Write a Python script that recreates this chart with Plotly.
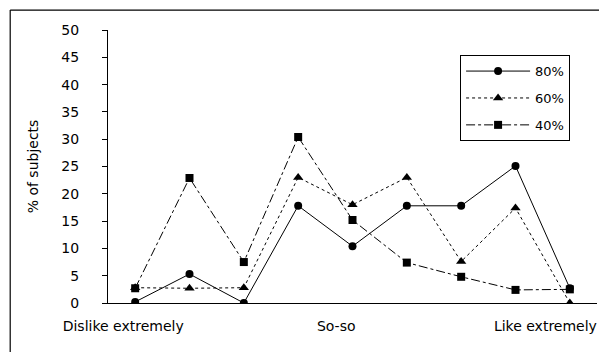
import plotly.graph_objects as go

points = [1, 2, 3, 4, 5, 6, 7, 8, 9]
s80 = [0.2, 5.3, 0, 17.8, 10.4, 17.8, 17.8, 25.1, 2.7]
s60 = [2.8, 2.7, 2.8, 23.0, 18.0, 23.0, 7.6, 17.4, 0]
s40 = [2.7, 22.9, 7.5, 30.4, 15.2, 7.4, 4.8, 2.4, 2.5]
series_names = ["80%", "60%", "40%"]
cat_pos = [0.78, 4.70, 8.55]
cat_labels = ["Dislike extremely", "So-so", "Like extremely"]
y_ticks = [0, 5, 10, 15, 20, 25, 30, 35, 40, 45, 50]

font_family = "DejaVu Sans, sans-serif"

fig = go.Figure()
fig.add_trace(go.Scatter(x=points, y=s40, name=series_names[2], mode="lines+markers",
                         legendgroup="c", legendrank=3,
                         line=dict(color="black", width=1, dash="dashdot"),
                         marker=dict(symbol="square", size=8, color="black")))
fig.add_trace(go.Scatter(x=points, y=s60, name=series_names[1], mode="lines+markers",
                         legendgroup="b", legendrank=2,
                         line=dict(color="black", width=1, dash="dot"),
                         marker=dict(symbol="triangle-up", size=9, color="black")))
fig.add_trace(go.Scatter(x=points, y=s80, name=series_names[0], mode="lines+markers",
                         legendgroup="a", legendrank=1,
                         line=dict(color="black", width=1),
                         marker=dict(symbol="circle", size=8, color="black")))

fig.update_layout(
    width=599, height=344,
    margin=dict(l=100, r=10, t=22, b=49, autoexpand=False),
    paper_bgcolor="white", plot_bgcolor="white",
    font=dict(family=font_family, size=13, color="black"),
    showlegend=True,
    legend=dict(x=0.72, y=0.908, xanchor="left", yanchor="top",
                bordercolor="black", borderwidth=1, bgcolor="white",
                font=dict(size=13), itemwidth=64, tracegroupgap=7,
                valign="middle"),
    xaxis=dict(range=[0.5, 9.5], showgrid=False, zeroline=False, automargin=False,
               showline=True, linecolor="black", linewidth=1,
               tickmode="array", tickvals=cat_pos, ticktext=cat_labels,
               ticks="", ticklabelstandoff=10, tickfont=dict(size=14)),
    yaxis=dict(range=[0, 50], showgrid=False, zeroline=False, automargin=False,
               showline=True, linecolor="black", linewidth=1,
               tickmode="array", tickvals=y_ticks,
               ticks="outside", ticklen=5, tickcolor="black",
               ticklabelstandoff=20, tickfont=dict(size=14),
               title=dict(text="% of subjects", standoff=19, font=dict(size=14))),
    shapes=[
        dict(type="line", xref="paper", yref="paper", x0=-0.2, x1=1.03, y0=1.073, y1=1.073,
             line=dict(color="black", width=1.2), layer="above"),
        dict(type="line", xref="paper", yref="paper", x0=-0.2, x1=-0.2, y0=1.073, y1=-0.2,
             line=dict(color="black", width=1.2), layer="above"),
    ],
)

fig.write_html("out.html")
